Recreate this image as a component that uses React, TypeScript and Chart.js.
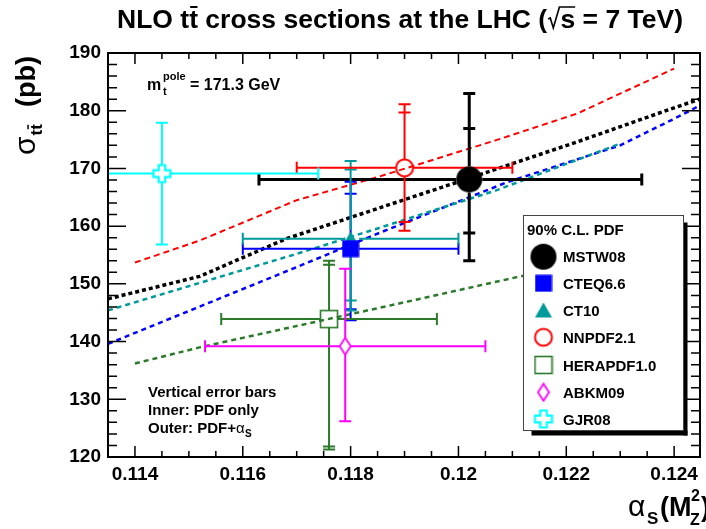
import React, { useEffect, useRef } from "react";
import { Chart, registerables } from "chart.js";

Chart.register(...registerables);

const FONT = '"Liberation Sans", Arial, Helvetica, sans-serif';

// ---------- Data: PDF predictions ----------
const pdfNames = ["MSTW08", "CTEQ6.6", "CT10", "NNPDF2.1", "HERAPDF1.0", "ABKM09", "GJR08"];
const pdfColors = ["#000000", "#0000ff", "#009a9a", "#ff0000", "#2a7a2a", "#ff00ff", "#00ffff"];
const alphaS = [0.1202, 0.118, 0.118, 0.119, 0.1176, 0.1179, 0.1145];
const alphaErrLow = [0.0039, 0.002, 0.002, 0.002, 0.002, 0.0026, 0.0029];
const alphaErrHigh = [0.0032, 0.002, 0.002, 0.002, 0.002, 0.0026, 0.0029];
const sigmaTT = [168.1, 156.1, 157.8, 170.1, 143.9, 139.2, 169.1];
const innerUp = [8.8, 9.5, 12.0, 9.6, 9.4, 13.4, 8.8];
const innerDown = [9.3, 10.5, 10.7, 9.4, 22.1, 13.0, 12.3];
const outerUp = [14.9, 11.6, 13.5, 11.0, 10.1, 13.4, 8.8];
const outerDown = [14.1, 12.4, 12.4, 10.9, 22.6, 13.0, 12.3];

// ---------- Data: sigma(alpha_S) curves ----------
const mstwCurveAlpha = [0.1135, 0.1152, 0.1168, 0.1202, 0.1222, 0.124, 0.1245];
const mstwCurveSigma = [147.4, 151.3, 157.8, 168.3, 174.6, 180.5, 182.1];
const cteqCurveAlpha = [0.1135, 0.117, 0.1185, 0.1209, 0.123, 0.124, 0.1245];
const cteqCurveSigma = [139.6, 152.9, 158.7, 167.6, 174.0, 178.6, 181.0];
const ct10CurveAlpha = [0.1135, 0.117, 0.1185, 0.1207, 0.123];
const ct10CurveSigma = [145.4, 155.2, 159.6, 166.2, 174.3];
const nnpdfCurveAlpha = [0.114, 0.1152, 0.117, 0.1185, 0.1207, 0.1222, 0.124];
const nnpdfCurveSigma = [153.7, 157.5, 164.5, 168.5, 174.9, 179.5, 187.3];
const heraCurveAlpha = [0.114, 0.1152, 0.1189, 0.1211, 0.124];
const heraCurveSigma = [136.2, 139.0, 146.6, 151.2, 157.0];

// ---------- Axes ----------
const xTicks = [0.114, 0.116, 0.118, 0.12, 0.122, 0.124];
const yTicks = [120, 130, 140, 150, 160, 170, 180, 190];
const xMin = 0.1135;
const xMax = 0.12448;
const yMin = 120;
const yMax = 190;

// ---------- marker canvases ----------
function mk(w: number, h: number, draw: (c: CanvasRenderingContext2D) => void) {
  const cv = document.createElement("canvas");
  cv.width = w;
  cv.height = h;
  const c = cv.getContext("2d")!;
  draw(c);
  return cv;
}

function makeMarkers() {
  return [
    mk(28, 28, (c) => {
      c.fillStyle = "#000";
      c.beginPath();
      c.arc(14, 14, 13, 0, Math.PI * 2);
      c.fill();
    }),
    mk(18, 18, (c) => {
      c.fillStyle = "#0000ff";
      c.fillRect(0.5, 0.5, 17, 17);
    }),
    mk(18, 18, (c) => {
      c.fillStyle = "#009a9a";
      c.beginPath();
      c.moveTo(9, 1.5);
      c.lineTo(17.5, 16.5);
      c.lineTo(0.5, 16.5);
      c.closePath();
      c.fill();
    }),
    mk(22, 22, (c) => {
      c.strokeStyle = "#ff0000";
      c.lineWidth = 2;
      c.beginPath();
      c.arc(11, 11, 8.5, 0, Math.PI * 2);
      c.stroke();
    }),
    mk(20, 20, (c) => {
      c.strokeStyle = "#2a7a2a";
      c.lineWidth = 1.6;
      c.strokeRect(1.5, 1.5, 17, 17);
    }),
    mk(14, 20, (c) => {
      c.strokeStyle = "#ff00ff";
      c.lineWidth = 1.8;
      c.beginPath();
      c.moveTo(7, 1.5);
      c.lineTo(12.5, 10);
      c.lineTo(7, 18.5);
      c.lineTo(1.5, 10);
      c.closePath();
      c.stroke();
    }),
    mk(22, 22, (c) => {
      c.strokeStyle = "#00ffff";
      c.lineWidth = 2.2;
      const o = 11, a = 8.5, b = 3.3;
      c.beginPath();
      c.moveTo(o - b, o - a);
      c.lineTo(o + b, o - a);
      c.lineTo(o + b, o - b);
      c.lineTo(o + a, o - b);
      c.lineTo(o + a, o + b);
      c.lineTo(o + b, o + b);
      c.lineTo(o + b, o + a);
      c.lineTo(o - b, o + a);
      c.lineTo(o - b, o + b);
      c.lineTo(o - a, o + b);
      c.lineTo(o - a, o - b);
      c.lineTo(o - b, o - b);
      c.closePath();
      c.stroke();
    }),
  ];
}

const markerHalfW = [13, 8.5, 8.5, 8.5, 8.5, 5.5, 8.5];
const markerHalfH = [13, 8.5, 8.5, 8.5, 8.5, 8.5, 8.5];

function drawErrorBars(chart: any) {
  const { ctx, chartArea: a } = chart;
  const xs = chart.scales.x;
  const ys = chart.scales.y;
  ctx.save();
  ctx.beginPath();
  ctx.rect(a.left, a.top, a.right - a.left, a.bottom - a.top);
  ctx.clip();
  ctx.lineCap = "butt";
  for (let i = 0; i < pdfNames.length; i++) {
    const px = xs.getPixelForValue(alphaS[i]);
    const py = ys.getPixelForValue(sigmaTT[i]);
    const xl = xs.getPixelForValue(alphaS[i] - alphaErrLow[i]);
    const xr = xs.getPixelForValue(alphaS[i] + alphaErrHigh[i]);
    const yot = ys.getPixelForValue(sigmaTT[i] + outerUp[i]);
    const yob = ys.getPixelForValue(sigmaTT[i] - outerDown[i]);
    const yit = ys.getPixelForValue(sigmaTT[i] + innerUp[i]);
    const yib = ys.getPixelForValue(sigmaTT[i] - innerDown[i]);
    const gw = markerHalfW[i];
    const gh = markerHalfH[i];
    ctx.strokeStyle = pdfColors[i];
    ctx.lineWidth = i === 0 ? 3 : 2;
    const cap = 6;
    ctx.beginPath();
    ctx.moveTo(xl, py);
    ctx.lineTo(px - gw, py);
    ctx.moveTo(px + gw, py);
    ctx.lineTo(xr, py);
    ctx.moveTo(xl, py - cap);
    ctx.lineTo(xl, py + cap);
    ctx.moveTo(xr, py - cap);
    ctx.lineTo(xr, py + cap);
    ctx.moveTo(px, py - gh);
    ctx.lineTo(px, yot);
    ctx.moveTo(px, py + gh);
    ctx.lineTo(px, yob);
    ctx.moveTo(px - cap, yot);
    ctx.lineTo(px + cap, yot);
    ctx.moveTo(px - cap, yob);
    ctx.lineTo(px + cap, yob);
    ctx.moveTo(px - cap, yit);
    ctx.lineTo(px + cap, yit);
    ctx.moveTo(px - cap, yib);
    ctx.lineTo(px + cap, yib);
    ctx.stroke();
  }
  ctx.restore();
}

function minorVals(majors: number[], sub: number, min: number, max: number) {
  const step = majors[1] - majors[0];
  const res: number[] = [];
  for (let m = -1; m < majors.length; m++) {
    const v0 = majors[0] + m * step;
    for (let k = 1; k < sub; k++) {
      const v = v0 + (k * step) / sub;
      if (v > min + 1e-9 && v < max - 1e-9) res.push(v);
    }
  }
  return res;
}

function drawFrame(chart: any) {
  const { ctx, chartArea: a } = chart;
  const xs = chart.scales.x;
  const ys = chart.scales.y;
  ctx.save();
  ctx.strokeStyle = "#000";
  ctx.lineWidth = 2;
  ctx.strokeRect(a.left, a.top, a.right - a.left, a.bottom - a.top);
  ctx.lineWidth = 1.5;
  ctx.beginPath();
  const xMaj = 11, xMin_ = 6, yMaj = 18, yMin_ = 9;
  xTicks.forEach((v) => {
    const p = xs.getPixelForValue(v);
    ctx.moveTo(p, a.bottom);
    ctx.lineTo(p, a.bottom - xMaj);
    ctx.moveTo(p, a.top);
    ctx.lineTo(p, a.top + xMaj);
  });
  minorVals(xTicks, 4, xMin, xMax).forEach((v) => {
    const p = xs.getPixelForValue(v);
    ctx.moveTo(p, a.bottom);
    ctx.lineTo(p, a.bottom - xMin_);
    ctx.moveTo(p, a.top);
    ctx.lineTo(p, a.top + xMin_);
  });
  yTicks.forEach((v) => {
    const p = ys.getPixelForValue(v);
    ctx.moveTo(a.left, p);
    ctx.lineTo(a.left + yMaj, p);
    ctx.moveTo(a.right, p);
    ctx.lineTo(a.right - yMaj, p);
  });
  minorVals(yTicks, 5, yMin, yMax).forEach((v) => {
    const p = ys.getPixelForValue(v);
    ctx.moveTo(a.left, p);
    ctx.lineTo(a.left + yMin_, p);
    ctx.moveTo(a.right, p);
    ctx.lineTo(a.right - yMin_, p);
  });
  ctx.stroke();
  ctx.restore();
}

function drawTexts(chart: any, markers: HTMLCanvasElement[]) {
  const ctx: CanvasRenderingContext2D = chart.ctx;
  ctx.save();
  ctx.fillStyle = "#000";
  ctx.strokeStyle = "#000";
  ctx.textBaseline = "alphabetic";
  ctx.textAlign = "left";

  // ----- Title -----
  {
    ctx.save();
    ctx.font = `bold 26px ${FONT}`;
    const p1 = "NLO t";
    const p2 = "t";
    const p3 = " cross sections at the LHC (";
    const p5 = "s";
    const p6 = " = 7 TeV)";
    const radW = 13;
    const mw = (s: string) => ctx.measureText(s).width;
    const total = mw(p1) + mw(p2) + mw(p3) + radW + mw(p5) + mw(p6);
    const sx = 566 / total;
    ctx.translate(117, 28);
    ctx.scale(sx, 1);
    let x = 0;
    ctx.fillText(p1, x, 0);
    x += mw(p1);
    ctx.fillText(p2, x, 0);
    ctx.lineWidth = 2;
    ctx.beginPath();
    ctx.moveTo(x + 1, -21);
    ctx.lineTo(x + mw(p2) - 0.5, -21);
    ctx.stroke();
    x += mw(p2);
    ctx.fillText(p3, x, 0);
    x += mw(p3);
    ctx.lineWidth = 1.6;
    ctx.beginPath();
    ctx.moveTo(x + 1, -9);
    ctx.lineTo(x + 3, -10);
    ctx.lineTo(x + 6, 0);
    ctx.lineTo(x + 12, -21);
    ctx.lineTo(x + 12 + mw(p5) + 1, -21);
    ctx.stroke();
    x += radW;
    ctx.fillText(p5, x, 0);
    x += mw(p5);
    ctx.fillText(p6, x, 0);
    ctx.restore();
  }

  // ----- Y title -----
  {
    ctx.save();
    ctx.translate(35, 155);
    ctx.rotate(-Math.PI / 2);
    ctx.font = `30px ${FONT}`;
    ctx.fillText("\u03c3", 0, 0);
    const sw = ctx.measureText("\u03c3").width;
    ctx.font = `bold 17px ${FONT}`;
    ctx.fillText("tt", sw + 1, 7);
    const tw = ctx.measureText("t").width;
    ctx.lineWidth = 1.5;
    ctx.beginPath();
    ctx.moveTo(sw + 1 + tw + 0.5, -7);
    ctx.lineTo(sw + 1 + 2 * tw - 0.5, -7);
    ctx.stroke();
    ctx.font = `bold 27px ${FONT}`;
    ctx.fillText("(pb)", 48, 0);
    ctx.restore();
  }

  // ----- X title -----
  {
    ctx.save();
    ctx.font = `30px ${FONT}`;
    ctx.fillText("\u03b1", 628, 516);
    ctx.font = `bold 17px ${FONT}`;
    ctx.fillText("S", 647, 524);
    ctx.font = `bold 27px ${FONT}`;
    ctx.fillText("(M", 660, 516);
    ctx.font = `bold 16px ${FONT}`;
    ctx.fillText("Z", 690, 525);
    ctx.fillText("2", 691, 501);
    ctx.font = `bold 27px ${FONT}`;
    ctx.fillText(")", 701, 516);
    ctx.restore();
  }

  // ----- m_t annotation -----
  {
    ctx.font = `bold 16px ${FONT}`;
    ctx.fillText("m", 147, 90);
    ctx.font = `bold 11px ${FONT}`;
    ctx.fillText("pole", 163, 80);
    ctx.fillText("t", 163, 95);
    ctx.font = `bold 16px ${FONT}`;
    ctx.fillText("= 171.3 GeV", 190, 90);
  }

  // ----- error-bar annotation -----
  {
    ctx.font = `bold 15px ${FONT}`;
    ctx.fillText("Vertical error bars", 148, 397);
    ctx.fillText("Inner: PDF only", 148, 415);
    const s = "Outer: PDF+";
    ctx.fillText(s, 148, 433);
    const w = ctx.measureText(s).width;
    ctx.font = `15px ${FONT}`;
    ctx.fillText("\u03b1", 148 + w, 433);
    const aw = ctx.measureText("\u03b1").width;
    ctx.font = `bold 10px ${FONT}`;
    ctx.fillText("S", 148 + w + aw + 0.5, 437);
  }

  // ----- Legend -----
  {
    const lx = 523.5, ly = 215.5, lw = 160, lh = 215;
    ctx.fillStyle = "#000";
    ctx.fillRect(lx + lw, ly + 7, 4, lh - 2);
    ctx.fillRect(lx + 8, ly + lh, lw - 4, 5);
    ctx.fillStyle = "#fff";
    ctx.fillRect(lx, ly, lw, lh);
    ctx.strokeStyle = "#444";
    ctx.lineWidth = 1;
    ctx.strokeRect(lx, ly, lw, lh);
    ctx.fillStyle = "#000";
    ctx.font = `bold 15px ${FONT}`;
    ctx.fillText("90% C.L. PDF", 527, 235);
    const rowY = [256.7, 283.3, 310, 337.3, 365, 392.3, 419];
    for (let i = 0; i < pdfNames.length; i++) {
      const m = markers[i];
      ctx.drawImage(m, 543.5 - m.width / 2, rowY[i] - m.height / 2);
      ctx.fillStyle = "#000";
      ctx.fillText(pdfNames[i], 563, rowY[i] + 5.5);
    }
  }
  ctx.restore();
}

export default function App() {
  const ref = useRef<HTMLCanvasElement | null>(null);
  useEffect(() => {
    if (!ref.current) return;
    const markers = makeMarkers();
    const markerSets = pdfNames.map((name, i) => ({
      label: name,
      data: [{ x: alphaS[i], y: sigmaTT[i] }],
      showLine: false,
      pointStyle: markers[i],
      pointRadius: 5,
      pointHoverRadius: 5,
      order: 0,
      clip: false as any,
    }));
    const curve = (xs: number[], ys: number[], color: string, width: number, dash: number[]) => ({
      label: "curve",
      data: xs.map((x, i) => ({ x, y: ys[i] })),
      showLine: true,
      borderColor: color,
      borderWidth: width,
      borderDash: dash,
      pointRadius: 0,
      fill: false,
      tension: 0,
      order: 1,
    });
    const curveSets = [
      curve(nnpdfCurveAlpha, nnpdfCurveSigma, "#ff0000", 2, [6, 4]),
      curve(mstwCurveAlpha, mstwCurveSigma, "#000000", 3.5, [4, 3]),
      curve(ct10CurveAlpha, ct10CurveSigma, "#009a9a", 2.5, [5, 4]),
      curve(cteqCurveAlpha, cteqCurveSigma, "#0000ff", 2.5, [5, 4]),
      curve(heraCurveAlpha, heraCurveSigma, "#2a7a2a", 2.5, [5, 4]),
    ];
    const firstCurveIndex = markerSets.length;

    const overlay = {
      id: "overlay",
      afterDatasetDraw(chart: any, args: any) {
        if (args.index === firstCurveIndex) drawErrorBars(chart);
      },
      afterDraw(chart: any) {
        drawFrame(chart);
        drawTexts(chart, markers);
      },
    };

    const tickFont = { family: FONT, size: 19, weight: "bold" as const };
    const chart = new Chart(ref.current, {
      type: "scatter",
      data: { datasets: [...markerSets, ...curveSets] as any },
      options: {
        responsive: false,
        animation: false,
        events: [],
        layout: { padding: { top: 53, left: 0, right: 0, bottom: 0 } },
        plugins: { legend: { display: false }, tooltip: { enabled: false }, title: { display: false } },
        scales: {
          x: {
            type: "linear",
            min: xMin,
            max: xMax,
            grid: { display: false, drawTicks: false },
            border: { display: false },
            afterBuildTicks: (s: any) => {
              s.ticks = xTicks.map((v) => ({ value: v }));
            },
            afterFit: (s: any) => {
              s.height = 72;
            },
            ticks: {
              autoSkip: false,
              maxRotation: 0,
              minRotation: 0,
              padding: 6,
              color: "#000",
              font: tickFont,
              callback: (v: any) => String(Number(Number(v).toFixed(3))),
            },
          },
          y: {
            type: "linear",
            min: yMin,
            max: yMax,
            grid: { display: false, drawTicks: false },
            border: { display: false },
            afterBuildTicks: (s: any) => {
              s.ticks = yTicks.map((v) => ({ value: v }));
            },
            afterFit: (s: any) => {
              s.width = 108;
            },
            ticks: {
              autoSkip: false,
              padding: 7,
              color: "#000",
              font: tickFont,
              callback: (v: any) => String(v),
            },
          },
        },
      },
      plugins: [overlay],
    });
    return () => chart.destroy();
  }, []);
  return (
    <div style={{ position: "absolute", left: 0, top: 0, width: 706, height: 529, background: "#fff" }}>
      <canvas ref={ref} width={706} height={529} style={{ display: "block" }} />
    </div>
  );
}
